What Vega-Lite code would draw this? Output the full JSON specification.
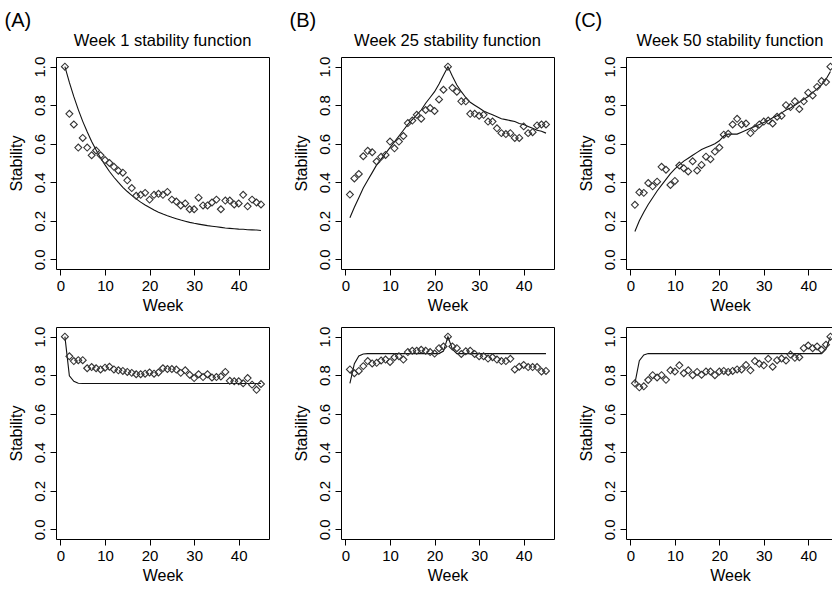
{
  "$schema": "https://vega.github.io/schema/vega-lite/v6.json",
  "background": "white",
  "padding": {"left": 4, "top": 11, "right": 0, "bottom": 0},
  "datasets": {
    "A1": [
      {"w":1,"o":1.0,"f":1.0},{"w":2,"o":0.755,"f":0.918},{"w":3,"o":0.70,"f":0.844},{"w":4,"o":0.58,"f":0.777},{"w":5,"o":0.63,"f":0.716},
      {"w":6,"o":0.58,"f":0.662},{"w":7,"o":0.54,"f":0.612},{"w":8,"o":0.565,"f":0.567},{"w":9,"o":0.54,"f":0.526},{"w":10,"o":0.515,"f":0.49},
      {"w":11,"o":0.50,"f":0.456},{"w":12,"o":0.48,"f":0.426},{"w":13,"o":0.46,"f":0.399},{"w":14,"o":0.45,"f":0.374},{"w":15,"o":0.41,"f":0.352},
      {"w":16,"o":0.37,"f":0.332},{"w":17,"o":0.33,"f":0.314},{"w":18,"o":0.335,"f":0.297},{"w":19,"o":0.345,"f":0.282},{"w":20,"o":0.31,"f":0.269},
      {"w":21,"o":0.335,"f":0.256},{"w":22,"o":0.34,"f":0.245},{"w":23,"o":0.335,"f":0.235},{"w":24,"o":0.35,"f":0.226},{"w":25,"o":0.31,"f":0.218},
      {"w":26,"o":0.30,"f":0.211},{"w":27,"o":0.28,"f":0.204},{"w":28,"o":0.29,"f":0.198},{"w":29,"o":0.26,"f":0.192},{"w":30,"o":0.26,"f":0.187},
      {"w":31,"o":0.32,"f":0.183},{"w":32,"o":0.28,"f":0.179},{"w":33,"o":0.28,"f":0.175},{"w":34,"o":0.295,"f":0.172},{"w":35,"o":0.31,"f":0.169},
      {"w":36,"o":0.26,"f":0.166},{"w":37,"o":0.305,"f":0.163},{"w":38,"o":0.305,"f":0.161},{"w":39,"o":0.285,"f":0.159},{"w":40,"o":0.29,"f":0.157},
      {"w":41,"o":0.335,"f":0.156},{"w":42,"o":0.275,"f":0.154},{"w":43,"o":0.31,"f":0.153},{"w":44,"o":0.295,"f":0.152},{"w":45,"o":0.285,"f":0.15}
    ],
    "B1": [
      {"w":1,"o":0.336,"f":0.216},{"w":2,"o":0.42,"f":0.27},{"w":3,"o":0.443,"f":0.32},{"w":4,"o":0.535,"f":0.37},{"w":5,"o":0.563,"f":0.41},
      {"w":6,"o":0.556,"f":0.45},{"w":7,"o":0.508,"f":0.49},{"w":8,"o":0.532,"f":0.52},{"w":9,"o":0.542,"f":0.55},{"w":10,"o":0.611,"f":0.58},
      {"w":11,"o":0.576,"f":0.61},{"w":12,"o":0.611,"f":0.64},{"w":13,"o":0.64,"f":0.67},{"w":14,"o":0.707,"f":0.70},{"w":15,"o":0.72,"f":0.725},
      {"w":16,"o":0.75,"f":0.75},{"w":17,"o":0.73,"f":0.775},{"w":18,"o":0.775,"f":0.81},{"w":19,"o":0.785,"f":0.84},{"w":20,"o":0.77,"f":0.87},
      {"w":21,"o":0.83,"f":0.91},{"w":22,"o":0.88,"f":0.955},{"w":23,"o":1.0,"f":1.0},{"w":24,"o":0.89,"f":0.95},{"w":25,"o":0.87,"f":0.905},
      {"w":26,"o":0.82,"f":0.87},{"w":27,"o":0.82,"f":0.84},{"w":28,"o":0.755,"f":0.815},{"w":29,"o":0.755,"f":0.80},{"w":30,"o":0.745,"f":0.785},
      {"w":31,"o":0.75,"f":0.77},{"w":32,"o":0.715,"f":0.76},{"w":33,"o":0.715,"f":0.75},{"w":34,"o":0.68,"f":0.74},{"w":35,"o":0.655,"f":0.73},
      {"w":36,"o":0.65,"f":0.725},{"w":37,"o":0.655,"f":0.72},{"w":38,"o":0.63,"f":0.715},{"w":39,"o":0.63,"f":0.705},{"w":40,"o":0.69,"f":0.70},
      {"w":41,"o":0.655,"f":0.69},{"w":42,"o":0.66,"f":0.68},{"w":43,"o":0.695,"f":0.67},{"w":44,"o":0.70,"f":0.665},{"w":45,"o":0.70,"f":0.655}
    ],
    "C1": [
      {"w":1,"o":0.283,"f":0.145},{"w":2,"o":0.348,"f":0.2},{"w":3,"o":0.345,"f":0.245},{"w":4,"o":0.396,"f":0.285},{"w":5,"o":0.379,"f":0.32},
      {"w":6,"o":0.403,"f":0.355},{"w":7,"o":0.48,"f":0.385},{"w":8,"o":0.465,"f":0.415},{"w":9,"o":0.386,"f":0.445},{"w":10,"o":0.407,"f":0.47},
      {"w":11,"o":0.487,"f":0.49},{"w":12,"o":0.473,"f":0.51},{"w":13,"o":0.456,"f":0.525},{"w":14,"o":0.509,"f":0.54},{"w":15,"o":0.461,"f":0.555},
      {"w":16,"o":0.49,"f":0.57},{"w":17,"o":0.533,"f":0.58},{"w":18,"o":0.52,"f":0.59},{"w":19,"o":0.559,"f":0.6},{"w":20,"o":0.58,"f":0.615},
      {"w":21,"o":0.647,"f":0.64},{"w":22,"o":0.652,"f":0.65},{"w":23,"o":0.70,"f":0.65},{"w":24,"o":0.729,"f":0.65},{"w":25,"o":0.70,"f":0.66},
      {"w":26,"o":0.705,"f":0.67},{"w":27,"o":0.655,"f":0.68},{"w":28,"o":0.68,"f":0.69},{"w":29,"o":0.70,"f":0.70},{"w":30,"o":0.715,"f":0.71},
      {"w":31,"o":0.72,"f":0.72},{"w":32,"o":0.705,"f":0.735},{"w":33,"o":0.74,"f":0.745},{"w":34,"o":0.745,"f":0.76},{"w":35,"o":0.80,"f":0.775},
      {"w":36,"o":0.79,"f":0.785},{"w":37,"o":0.82,"f":0.8},{"w":38,"o":0.78,"f":0.815},{"w":39,"o":0.82,"f":0.83},{"w":40,"o":0.865,"f":0.845},
      {"w":41,"o":0.85,"f":0.865},{"w":42,"o":0.895,"f":0.885},{"w":43,"o":0.925,"f":0.905},{"w":44,"o":0.92,"f":0.935},{"w":45,"o":1.0,"f":0.975}
    ],
    "A2": [
      {"w":1,"o":1.0,"f":1.0},{"w":2,"o":0.898,"f":0.797},{"w":3,"o":0.873,"f":0.768},{"w":4,"o":0.878,"f":0.758},{"w":5,"o":0.878,"f":0.757},
      {"w":6,"o":0.836,"f":0.757},{"w":7,"o":0.842,"f":0.757},{"w":8,"o":0.836,"f":0.757},{"w":9,"o":0.83,"f":0.757},{"w":10,"o":0.839,"f":0.757},
      {"w":11,"o":0.844,"f":0.757},{"w":12,"o":0.83,"f":0.757},{"w":13,"o":0.825,"f":0.757},{"w":14,"o":0.822,"f":0.757},{"w":15,"o":0.817,"f":0.757},
      {"w":16,"o":0.812,"f":0.757},{"w":17,"o":0.805,"f":0.757},{"w":18,"o":0.805,"f":0.757},{"w":19,"o":0.808,"f":0.757},{"w":20,"o":0.814,"f":0.757},
      {"w":21,"o":0.808,"f":0.757},{"w":22,"o":0.814,"f":0.757},{"w":23,"o":0.836,"f":0.757},{"w":24,"o":0.832,"f":0.757},{"w":25,"o":0.832,"f":0.757},
      {"w":26,"o":0.829,"f":0.757},{"w":27,"o":0.812,"f":0.757},{"w":28,"o":0.825,"f":0.757},{"w":29,"o":0.802,"f":0.757},{"w":30,"o":0.785,"f":0.757},
      {"w":31,"o":0.805,"f":0.757},{"w":32,"o":0.79,"f":0.757},{"w":33,"o":0.805,"f":0.757},{"w":34,"o":0.788,"f":0.757},{"w":35,"o":0.79,"f":0.757},
      {"w":36,"o":0.793,"f":0.757},{"w":37,"o":0.817,"f":0.757},{"w":38,"o":0.771,"f":0.757},{"w":39,"o":0.768,"f":0.757},{"w":40,"o":0.768,"f":0.757},
      {"w":41,"o":0.758,"f":0.757},{"w":42,"o":0.785,"f":0.757},{"w":43,"o":0.751,"f":0.757},{"w":44,"o":0.724,"f":0.757},{"w":45,"o":0.754,"f":0.757}
    ],
    "B2": [
      {"w":1,"o":0.83,"f":0.758},{"w":2,"o":0.81,"f":0.86},{"w":3,"o":0.822,"f":0.90},{"w":4,"o":0.847,"f":0.91},{"w":5,"o":0.873,"f":0.912},
      {"w":6,"o":0.861,"f":0.912},{"w":7,"o":0.864,"f":0.912},{"w":8,"o":0.876,"f":0.912},{"w":9,"o":0.881,"f":0.912},{"w":10,"o":0.869,"f":0.912},
      {"w":11,"o":0.893,"f":0.912},{"w":12,"o":0.898,"f":0.912},{"w":13,"o":0.881,"f":0.912},{"w":14,"o":0.92,"f":0.912},{"w":15,"o":0.927,"f":0.912},
      {"w":16,"o":0.927,"f":0.912},{"w":17,"o":0.932,"f":0.912},{"w":18,"o":0.927,"f":0.912},{"w":19,"o":0.92,"f":0.912},{"w":20,"o":0.912,"f":0.912},
      {"w":21,"o":0.94,"f":0.912},{"w":22,"o":0.949,"f":0.925},{"w":23,"o":1.0,"f":1.0},{"w":24,"o":0.949,"f":0.935},{"w":25,"o":0.94,"f":0.912},
      {"w":26,"o":0.91,"f":0.912},{"w":27,"o":0.924,"f":0.912},{"w":28,"o":0.927,"f":0.912},{"w":29,"o":0.91,"f":0.912},{"w":30,"o":0.898,"f":0.912},
      {"w":31,"o":0.898,"f":0.912},{"w":32,"o":0.886,"f":0.912},{"w":33,"o":0.893,"f":0.912},{"w":34,"o":0.881,"f":0.912},{"w":35,"o":0.873,"f":0.912},
      {"w":36,"o":0.873,"f":0.912},{"w":37,"o":0.885,"f":0.912},{"w":38,"o":0.83,"f":0.912},{"w":39,"o":0.844,"f":0.912},{"w":40,"o":0.853,"f":0.912},
      {"w":41,"o":0.842,"f":0.912},{"w":42,"o":0.842,"f":0.912},{"w":43,"o":0.842,"f":0.912},{"w":44,"o":0.819,"f":0.912},{"w":45,"o":0.822,"f":0.912}
    ],
    "C2": [
      {"w":1,"o":0.758,"f":0.758},{"w":2,"o":0.737,"f":0.875},{"w":3,"o":0.742,"f":0.905},{"w":4,"o":0.775,"f":0.912},{"w":5,"o":0.80,"f":0.912},
      {"w":6,"o":0.788,"f":0.912},{"w":7,"o":0.80,"f":0.912},{"w":8,"o":0.776,"f":0.912},{"w":9,"o":0.825,"f":0.912},{"w":10,"o":0.819,"f":0.912},
      {"w":11,"o":0.851,"f":0.912},{"w":12,"o":0.81,"f":0.912},{"w":13,"o":0.825,"f":0.912},{"w":14,"o":0.80,"f":0.912},{"w":15,"o":0.817,"f":0.912},
      {"w":16,"o":0.802,"f":0.912},{"w":17,"o":0.819,"f":0.912},{"w":18,"o":0.819,"f":0.912},{"w":19,"o":0.80,"f":0.912},{"w":20,"o":0.819,"f":0.912},
      {"w":21,"o":0.822,"f":0.912},{"w":22,"o":0.817,"f":0.912},{"w":23,"o":0.822,"f":0.912},{"w":24,"o":0.83,"f":0.912},{"w":25,"o":0.83,"f":0.912},
      {"w":26,"o":0.853,"f":0.912},{"w":27,"o":0.825,"f":0.912},{"w":28,"o":0.873,"f":0.912},{"w":29,"o":0.859,"f":0.912},{"w":30,"o":0.851,"f":0.912},
      {"w":31,"o":0.885,"f":0.912},{"w":32,"o":0.844,"f":0.912},{"w":33,"o":0.878,"f":0.912},{"w":34,"o":0.886,"f":0.912},{"w":35,"o":0.876,"f":0.912},
      {"w":36,"o":0.907,"f":0.912},{"w":37,"o":0.89,"f":0.912},{"w":38,"o":0.893,"f":0.912},{"w":39,"o":0.94,"f":0.912},{"w":40,"o":0.954,"f":0.912},
      {"w":41,"o":0.94,"f":0.912},{"w":42,"o":0.949,"f":0.912},{"w":43,"o":0.932,"f":0.912},{"w":44,"o":0.958,"f":0.935},{"w":45,"o":1.0,"f":1.0}
    ]
  },
  "spacing": 19,
  "hconcat": [
    {
      "title": {"text": "(A)", "anchor": "start", "fontSize": 20, "offset": 1, "dx": -3},
      "spacing": 11,
      "vconcat": [
        {
          "width": 213, "height": 212,
          "title": {"text": "Week 1 stability function", "frame": "group", "anchor": "middle", "fontSize": 16.5, "offset": 7},
          "data": {"name": "A1"},
          "encoding": {"x": {"field": "w", "type": "quantitative", "title": "Week", "scale": {"domain": [-1, 46.8], "nice": false, "zero": false}, "axis": {"values": [0, 10, 20, 30, 40]}}},
          "layer": [
            {"mark": {"type": "line", "color": "#111", "strokeWidth": 1.1}, "encoding": {"y": {"field": "f", "type": "quantitative", "title": "Stability", "scale": {"domain": [-0.05, 1.05], "nice": false}, "axis": {"values": [0, 0.2, 0.4, 0.6, 0.8, 1.0], "format": ".1f"}}}},
            {"mark": {"type": "point", "shape": "diamond", "filled": false, "size": 48, "color": "#333", "strokeWidth": 1.1, "opacity": 1}, "encoding": {"y": {"field": "o", "type": "quantitative", "title": "Stability"}}}
          ]
        },
        {
          "width": 213, "height": 212,
          "data": {"name": "A2"},
          "encoding": {"x": {"field": "w", "type": "quantitative", "title": "Week", "scale": {"domain": [-1, 46.8], "nice": false, "zero": false}, "axis": {"values": [0, 10, 20, 30, 40]}}},
          "layer": [
            {"mark": {"type": "line", "color": "#111", "strokeWidth": 1.1}, "encoding": {"y": {"field": "f", "type": "quantitative", "title": "Stability", "scale": {"domain": [-0.05, 1.05], "nice": false}, "axis": {"values": [0, 0.2, 0.4, 0.6, 0.8, 1.0], "format": ".1f"}}}},
            {"mark": {"type": "point", "shape": "diamond", "filled": false, "size": 48, "color": "#333", "strokeWidth": 1.1, "opacity": 1}, "encoding": {"y": {"field": "o", "type": "quantitative", "title": "Stability"}}}
          ]
        }
      ]
    },
    {
      "title": {"text": "(B)", "anchor": "start", "fontSize": 20, "offset": 1, "dx": -3},
      "spacing": 11,
      "vconcat": [
        {
          "width": 213, "height": 212,
          "title": {"text": "Week 25 stability function", "frame": "group", "anchor": "middle", "fontSize": 16.5, "offset": 7},
          "data": {"name": "B1"},
          "encoding": {"x": {"field": "w", "type": "quantitative", "title": "Week", "scale": {"domain": [-1, 46.8], "nice": false, "zero": false}, "axis": {"values": [0, 10, 20, 30, 40]}}},
          "layer": [
            {"mark": {"type": "line", "color": "#111", "strokeWidth": 1.1}, "encoding": {"y": {"field": "f", "type": "quantitative", "title": "Stability", "scale": {"domain": [-0.05, 1.05], "nice": false}, "axis": {"values": [0, 0.2, 0.4, 0.6, 0.8, 1.0], "format": ".1f"}}}},
            {"mark": {"type": "point", "shape": "diamond", "filled": false, "size": 48, "color": "#333", "strokeWidth": 1.1, "opacity": 1}, "encoding": {"y": {"field": "o", "type": "quantitative", "title": "Stability"}}}
          ]
        },
        {
          "width": 213, "height": 212,
          "data": {"name": "B2"},
          "encoding": {"x": {"field": "w", "type": "quantitative", "title": "Week", "scale": {"domain": [-1, 46.8], "nice": false, "zero": false}, "axis": {"values": [0, 10, 20, 30, 40]}}},
          "layer": [
            {"mark": {"type": "line", "color": "#111", "strokeWidth": 1.1}, "encoding": {"y": {"field": "f", "type": "quantitative", "title": "Stability", "scale": {"domain": [-0.05, 1.05], "nice": false}, "axis": {"values": [0, 0.2, 0.4, 0.6, 0.8, 1.0], "format": ".1f"}}}},
            {"mark": {"type": "point", "shape": "diamond", "filled": false, "size": 48, "color": "#333", "strokeWidth": 1.1, "opacity": 1}, "encoding": {"y": {"field": "o", "type": "quantitative", "title": "Stability"}}}
          ]
        }
      ]
    },
    {
      "title": {"text": "(C)", "anchor": "start", "fontSize": 20, "offset": 1, "dx": -3},
      "spacing": 11,
      "vconcat": [
        {
          "width": 208, "height": 212,
          "title": {"text": "Week 50 stability function", "frame": "group", "anchor": "middle", "fontSize": 16.5, "offset": 7},
          "data": {"name": "C1"},
          "encoding": {"x": {"field": "w", "type": "quantitative", "title": "Week", "scale": {"domain": [-1, 45.8], "nice": false, "zero": false}, "axis": {"values": [0, 10, 20, 30, 40]}}},
          "layer": [
            {"mark": {"type": "line", "color": "#111", "strokeWidth": 1.1}, "encoding": {"y": {"field": "f", "type": "quantitative", "title": "Stability", "scale": {"domain": [-0.05, 1.05], "nice": false}, "axis": {"values": [0, 0.2, 0.4, 0.6, 0.8, 1.0], "format": ".1f"}}}},
            {"mark": {"type": "point", "shape": "diamond", "filled": false, "size": 48, "color": "#333", "strokeWidth": 1.1, "opacity": 1}, "encoding": {"y": {"field": "o", "type": "quantitative", "title": "Stability"}}}
          ]
        },
        {
          "width": 208, "height": 212,
          "data": {"name": "C2"},
          "encoding": {"x": {"field": "w", "type": "quantitative", "title": "Week", "scale": {"domain": [-1, 45.8], "nice": false, "zero": false}, "axis": {"values": [0, 10, 20, 30, 40]}}},
          "layer": [
            {"mark": {"type": "line", "color": "#111", "strokeWidth": 1.1}, "encoding": {"y": {"field": "f", "type": "quantitative", "title": "Stability", "scale": {"domain": [-0.05, 1.05], "nice": false}, "axis": {"values": [0, 0.2, 0.4, 0.6, 0.8, 1.0], "format": ".1f"}}}},
            {"mark": {"type": "point", "shape": "diamond", "filled": false, "size": 48, "color": "#333", "strokeWidth": 1.1, "opacity": 1}, "encoding": {"y": {"field": "o", "type": "quantitative", "title": "Stability"}}}
          ]
        }
      ]
    }
  ],
  "config": {
    "font": "Liberation Sans",
    "view": {"stroke": "#000", "strokeWidth": 1},
    "axis": {"grid": false, "domain": false, "tickColor": "#000", "tickSize": 6, "labelFont": "Liberation Sans", "labelFontSize": 15, "labelColor": "#000", "labelPadding": 3, "labelOverlap": false, "labelFlush": false, "titleFont": "Liberation Sans", "titleFontSize": 16, "titleFontWeight": "normal", "titleColor": "#000"},
    "axisX": {"titlePadding": 4},
    "axisY": {"labelAngle": 270, "labelAlign": "center", "labelBaseline": "bottom", "titlePadding": 8},
    "title": {"font": "Liberation Sans", "fontWeight": "normal", "color": "#000"}
  }
}
